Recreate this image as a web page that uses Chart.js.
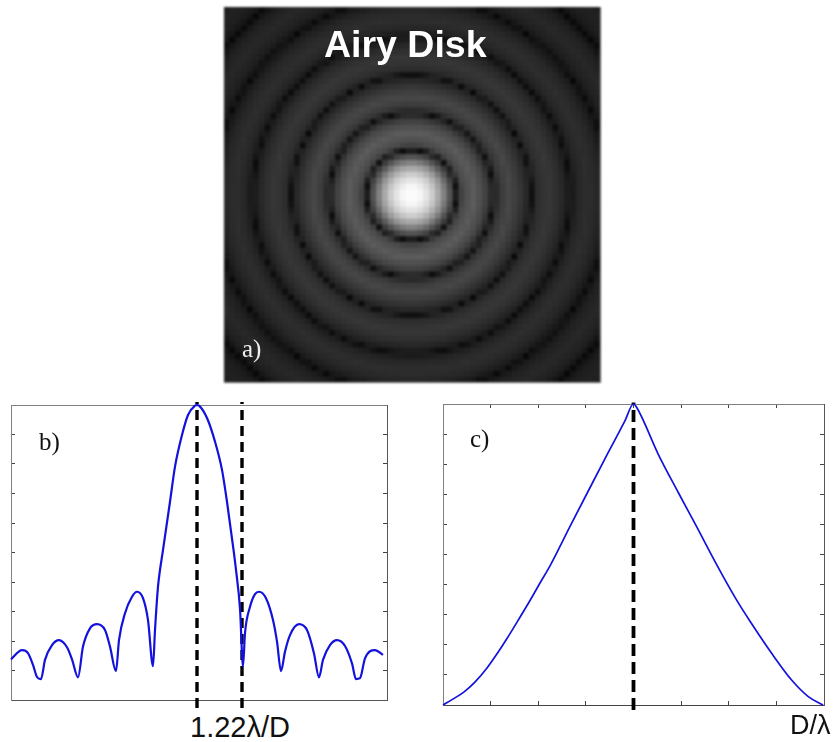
<!DOCTYPE html>
<html><head><meta charset="utf-8">
<script src="https://cdn.jsdelivr.net/npm/chart.js@4"></script>
<style>
html,body{margin:0;padding:0;background:#fff;width:835px;height:742px;overflow:hidden}
canvas{position:absolute}
#ca{filter:blur(.8px)}
.t{position:absolute;white-space:nowrap;line-height:1}
.s{font-family:"Liberation Sans",Arial,sans-serif}
.r{font-family:"Liberation Serif","Times New Roman",serif;font-size:25px;color:#111}
</style></head><body>
<canvas id="ca" style="left:214px;top:-3px" width="396" height="395"></canvas>
<canvas id="cb" style="left:1px;top:395px" width="396" height="315"></canvas>
<canvas id="cc" style="left:433px;top:394px" width="401" height="321"></canvas>
<div class="t s" style="left:324px;top:26px;font-size:37.5px;font-weight:bold;color:#fff">Airy Disk</div>
<div class="t r" style="left:242px;top:336px;color:#eee">a)</div>
<div class="t r" style="left:39px;top:429px">b)</div>
<div class="t r" style="left:470px;top:426px">c)</div>
<div class="t s" style="left:190px;top:713px;font-size:29px;color:#111">1.22λ/D</div>
<div class="t s" style="left:790px;top:712px;font-size:27px;color:#111">D/λ</div>
<script>
// Panel a: radial brightness profile (radius in cell units, 0-255 grey)
const airyRadius = [0,1.7,3.4,5.1,6.5,7.3,7.7,8.1,8.8,10.6,12.4,13.6,14,14.4,15.2,16.7,18.4,20,20.4,20.8,21.6,23.4,25.2,26.6,27,27.4,28.4,30,31.8,33.3,33.7,34.1,35,37,38.9,40,40.4,40.8,42,44,45.5,47];
const airyGrey   = [255,245,210,150,85,52,10,52,74,92,70,42,10,40,58,72,55,34,10,34,46,55,44,28,10,26,38,46,38,24,8,22,32,40,32,20,8,20,30,34,26,14];
const gridSize = 64;
const airyCentre = 32;

// Panel b: profile across the disk
const bX = [-186,-175,-169,-164,-160,-156,-152,-145,-138,-130,-125,-119,-114,-107,-100,-92,-87,-81,-78,-72,-65,-60,-54,-49,-44,-42,-39,-37,-34.5,-27,-22,-15,-9,-2,0,2,10,18,25,30,37,39,43,46,48,53,58,62,69,76,80,84,88,93,102,110,117,122,126,133,140,148,155,159,163,168,178,186];
const bY = [1.38,1.69,1.59,1.19,0.78,0.71,1.36,1.86,2.03,1.79,1.38,0.77,1.81,2.43,2.57,2.37,1.81,0.98,2.03,2.94,3.5,3.67,3.45,2.71,1.15,2.37,3.84,4.41,4.97,6.72,7.91,8.98,9.66,9.98,10,9.98,9.56,8.76,7.8,6.72,4.97,4.41,3.1,1.15,2.27,3.16,3.59,3.67,3.45,2.71,1.98,0.98,1.64,2.2,2.57,2.37,1.58,0.77,1.36,1.86,2.03,1.83,1.24,0.71,0.74,1.41,1.69,1.53];
const bMarkers = [0,45];
const bMarkerY = [-0.27,10.1];

// Panel c: transfer function
const cX = [-4,-3.82,-3.57,-3.33,-3.08,-2.84,-2.66,-2.42,-2.17,-1.96,-1.75,-1.33,-0.95,-0.53,-0.18,0,0.065,0.52,0.94,1.32,1.74,2.16,2.44,2.9,3.32,3.67,3.98];
const cY = [0,0.17,0.42,0.76,1.22,1.76,2.2,2.82,3.48,4.06,4.63,5.94,7.11,8.39,9.44,10,9.89,8.33,7.06,5.94,4.68,3.5,2.8,1.72,0.83,0.28,0];
const cMarkers = [0];
const cMarkerY = [-0.17,10.05];

Chart.defaults.animation = false;
function pts(xs,ys){return xs.map((x,i)=>({x,y:ys[i]}));}
function greyAt(r){
  let i=0; while(i<airyRadius.length-2 && r>airyRadius[i+1]) i++;
  const t=Math.min(1,(r-airyRadius[i])/(airyRadius[i+1]-airyRadius[i]));
  return Math.round(airyGrey[i]+(airyGrey[i+1]-airyGrey[i])*t);
}
function axis(pos,min,max,step,o){
  const horiz = pos==='top'||pos==='bottom';
  return {type:'linear',position:pos,min,max,
    ticks:{display:false,stepSize:step,autoSkip:false,includeBounds:false},
    afterFit(s){ if(horiz) s.height=0; else s.width=0; },
    border:{display:true,color:o.color,width:1},
    grid:{drawOnChartArea:false,drawTicks:o.ticks,tickLength:-4,tickColor:o.tick||'#444',lineWidth:1}};
}
function scales(xr,yr,c){
  return {
    x:axis('bottom',xr[0],xr[1],xr[2],{color:c.bottom,ticks:xr[3],tick:c.tick}),
    x2:axis('top',xr[0],xr[1],xr[2],{color:c.top,ticks:xr[3],tick:c.tick}),
    y:axis('left',yr[0],yr[1],yr[2],{color:c.left,ticks:yr[3],tick:c.tick}),
    y2:axis('right',yr[0],yr[1],yr[2],{color:c.right,ticks:yr[3],tick:c.tick})
  };
}
function opts(s){return {responsive:false,devicePixelRatio:1,layout:{padding:10},events:[],
  plugins:{legend:{display:false},tooltip:{enabled:false},title:{display:false}},scales:s};}
function marker(x,yy,width,dash){
  return {data:[{x,y:yy[0]},{x,y:yy[1]}],borderColor:'#000',borderWidth:width,borderDash:dash,pointRadius:0,clip:false,showLine:true,borderCapStyle:'butt'};
}
function curve(xs,ys,w){
  return {data:pts(xs,ys),borderColor:'#1212dc',borderWidth:w,pointRadius:0,showLine:true,cubicInterpolationMode:'monotone',clip:false};
}

// Panel a cells
const cells=[],cellColours=[];
for(let j=0;j<gridSize;j++)for(let i=0;i<gridSize;i++){
  const x=i+.5,y=j+.5,g=greyAt(Math.hypot(x-airyCentre,y-airyCentre));
  cells.push({x,y});cellColours.push(`rgb(${g},${g},${g})`);
}
new Chart(document.getElementById('ca'),{type:'scatter',
  data:{datasets:[{data:cells,pointStyle:'rect',pointRadius:5,pointBorderWidth:0,pointBackgroundColor:cellColours,clip:0}]},
  options:opts(scales([0,64,gridSize/5,true],[0,64,gridSize/5,true],{top:'#777',bottom:'#777',left:'#777',right:'#777',tick:'#555'}))});

new Chart(document.getElementById('cb'),{type:'scatter',
  data:{datasets:[curve(bX,bY,2.2),...bMarkers.map(x=>marker(x,bMarkerY,3.4,[10,6]))]},
  options:opts(scales([-186,190,50,false],[0,10,1,true],{top:'#808080',bottom:'#555',left:'#808080',right:'#555',tick:'#444'}))});

new Chart(document.getElementById('cc'),{type:'scatter',
  data:{datasets:[curve(cX,cY,1.7),...cMarkers.map(x=>marker(x,cMarkerY,3.8,[12,6]))]},
  options:opts(scales([-4,4,1,true],[0,10,1,true],{top:'#808080',bottom:'#444',left:'#808080',right:'#555',tick:'#444'}))});
</script>
</body></html>
